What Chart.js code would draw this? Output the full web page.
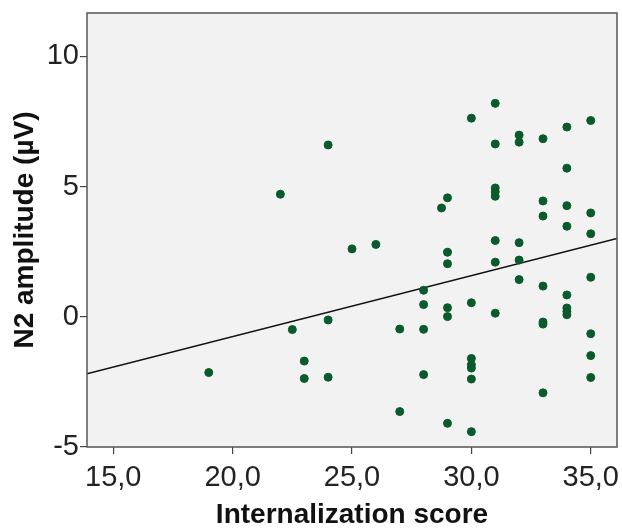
<!DOCTYPE html>
<html>
<head>
<meta charset="utf-8">
<script src="https://cdn.jsdelivr.net/npm/chart.js@4"></script>
<style>
  html, body { margin: 0; padding: 0; background: #fff; }
  #wrap { width: 622px; height: 529px; }
</style>
</head>
<body>
<div id="wrap"><canvas id="scatter"></canvas></div>
<script>
// scatter: internalization score vs N2 amplitude

var scoreX = [19, 22, 22.5, 23, 23, 24, 24, 24, 25, 26, 27, 27,
  28, 28, 28, 28, 28.75, 29, 29, 29, 29, 29, 29,
  30, 30, 30, 30, 30, 30, 30,
  31, 31, 31, 31, 31, 31, 31, 31,
  32, 32, 32, 32, 32,
  33, 33, 33, 33, 33, 33, 33,
  34, 34, 34, 34, 34, 34, 34, 34,
  35, 35, 35, 35, 35, 35, 35];
var amplitudeY = [-2.14, 4.71, -0.49, -1.70, -2.37, 6.60, -0.12, -2.32, 2.61, 2.78, -0.47, -3.64,
  1.02, 0.47, -0.48, -2.22, 4.18, 4.57, 2.48, 2.04, 0.35, 0.01, -4.09,
  7.63, 0.54, -1.60, -1.84, -1.97, -2.39, -4.41,
  8.20, 6.64, 4.95, 4.80, 4.63, 2.93, 2.10, 0.14,
  6.98, 6.71, 2.85, 2.18, 1.43,
  6.84, 4.45, 3.87, 1.18, -0.20, -0.28, -2.92,
  7.29, 5.71, 4.27, 3.48, 0.84, 0.34, 0.20, 0.08,
  7.54, 3.99, 3.19, 1.52, -0.65, -1.49, -2.33];

var xTicks = [15, 20, 25, 30, 35];
var xTickLabels = ["15,0", "20,0", "25,0", "30,0", "35,0"];
var yTicks = [-5, 0, 5, 10];
var yTickLabels = ["-5", "0", "5", "10"];

// linear fit line: y = a + b*x
var fitIntercept = -5.44;
var fitSlope = 0.234;

var xMin = 13.9, xMax = 36.1;
var yMin = -5, yMax = 11.67;

var points = scoreX.map(function (x, i) { return { x: x, y: amplitudeY[i] }; });
var fitLine = [xMin, xMax].map(function (x) { return { x: x, y: fitIntercept + fitSlope * x }; });

var plotBg = {
  id: 'plotBg',
  beforeDraw: function (chart) {
    var a = chart.chartArea, ctx = chart.ctx;
    ctx.save();
    ctx.fillStyle = '#f2f2f3';
    ctx.fillRect(a.left, a.top, a.right - a.left, a.bottom - a.top);
    ctx.restore();
  },
  afterDatasetsDraw: function (chart) {
    var a = chart.chartArea, ctx = chart.ctx;
    ctx.save();
    ctx.strokeStyle = '#555';
    ctx.lineWidth = 1.5;
    ctx.strokeRect(a.left, a.top, a.right - a.left, a.bottom - a.top);
    ctx.restore();
  }
};

var tickFont = { family: "'Liberation Sans Narrow', 'Liberation Sans', Arial, sans-serif", size: 29, lineHeight: 1 };
var titleFont = { family: "'Liberation Sans', Arial, sans-serif", size: 28, weight: 'bold', lineHeight: 1 };

new Chart(document.getElementById('scatter'), {
  type: 'scatter',
  data: {
    datasets: [
      {
        label: 'fit',
        type: 'line',
        data: fitLine,
        borderColor: '#111',
        borderWidth: 1.6,
        pointRadius: 0,
        fill: false,
        order: 2
      },
      {
        label: 'N2',
        data: points,
        backgroundColor: '#0b5a2c',
        borderColor: '#0b5a2c',
        pointRadius: 4,
        pointHoverRadius: 4,
        order: 1
      }
    ]
  },
  options: {
    responsive: true,
    maintainAspectRatio: false,
    animation: false,
    layout: { padding: { top: 13, right: 2, left: 0, bottom: 0 } },
    plugins: {
      legend: { display: false },
      tooltip: { enabled: false }
    },
    scales: {
      x: {
        type: 'linear',
        min: xMin,
        max: xMax,
        afterBuildTicks: function (s) { s.ticks = xTicks.map(function (v) { return { value: v }; }); },
        afterFit: function (s) { s.height = 82; s.paddingLeft = 0; s.paddingRight = 0; },
        border: { display: false },
        grid: { drawOnChartArea: false, tickLength: 7, color: '#444', lineWidth: 1.2 },
        ticks: {
          color: '#222',
          font: tickFont,
          padding: 9,
          maxRotation: 0,
          callback: function (v) { var i = xTicks.indexOf(v); return i >= 0 ? xTickLabels[i] : ''; }
        },
        title: {
          display: true,
          text: 'Internalization score',
          color: '#111',
          font: titleFont,
          padding: { top: 0, bottom: 0 }
        }
      },
      y: {
        type: 'linear',
        min: yMin,
        max: yMax,
        afterBuildTicks: function (s) { s.ticks = yTicks.map(function (v) { return { value: v }; }); },
        afterFit: function (s) { s.width = 87; s.paddingTop = 0; s.paddingBottom = 0; },
        border: { display: false },
        grid: { drawOnChartArea: false, tickLength: 7, color: '#444', lineWidth: 1.2 },
        ticks: {
          color: '#222',
          font: tickFont,
          padding: 1,
          callback: function (v) { var i = yTicks.indexOf(v); return i >= 0 ? yTickLabels[i] : ''; }
        },
        title: {
          display: true,
          text: 'N2 amplitude (µV)',
          color: '#111',
          font: titleFont,
          padding: { top: 11, bottom: 0 }
        }
      }
    }
  },
  plugins: [plotBg]
});
</script>
</body>
</html>
